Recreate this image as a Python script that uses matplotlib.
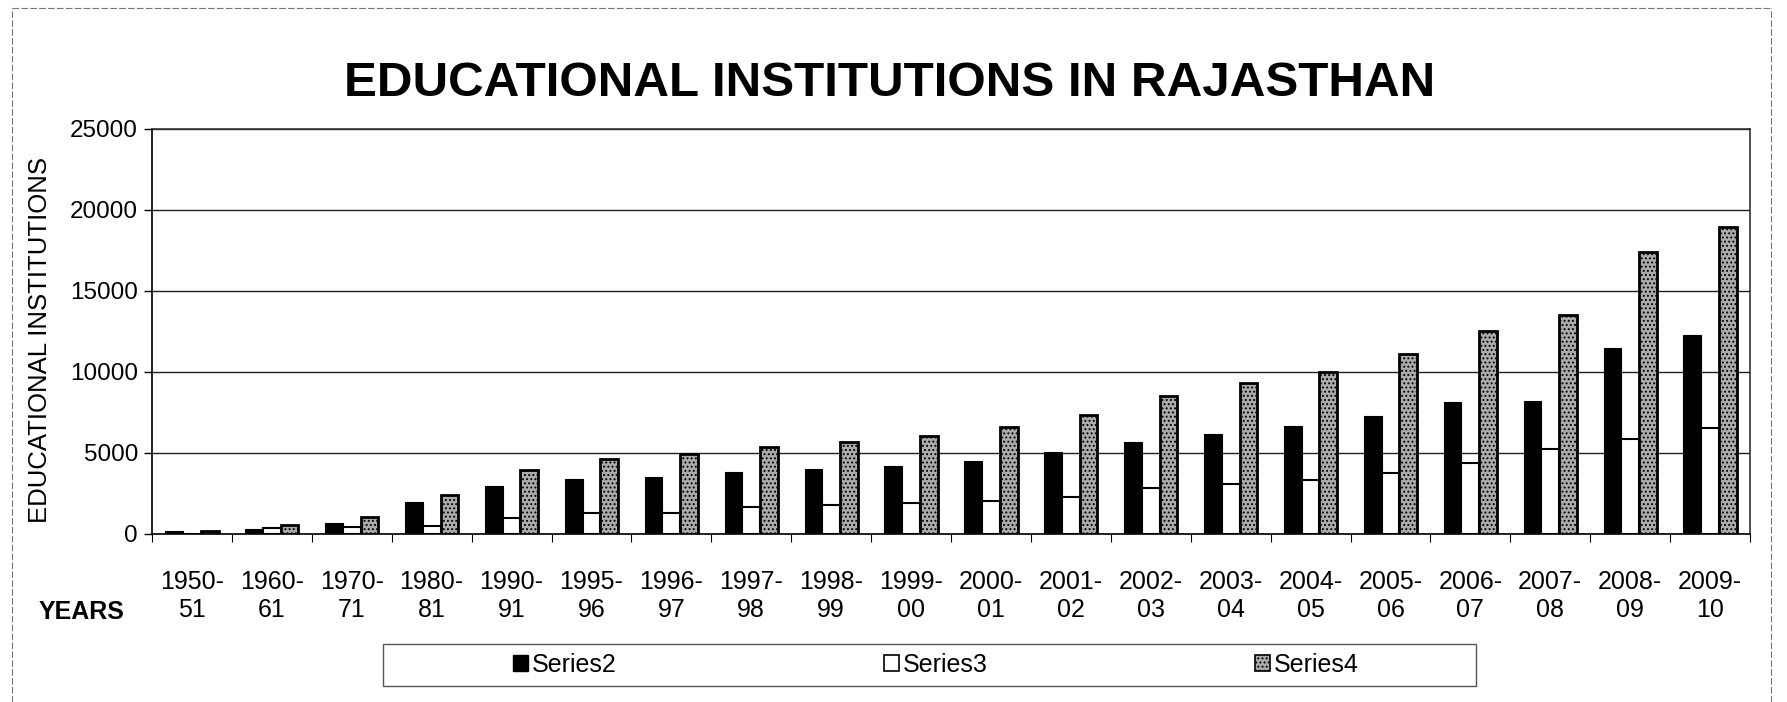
import matplotlib
matplotlib.use("Agg")
import matplotlib.pyplot as plt
import numpy as np
from matplotlib.patches import Rectangle
from matplotlib.lines import Line2D

years = ["1950-\n51", "1960-\n61", "1970-\n71", "1980-\n81", "1990-\n91", "1995-\n96",
         "1996-\n97", "1997-\n98", "1998-\n99", "1999-\n00", "2000-\n01", "2001-\n02",
         "2002-\n03", "2003-\n04", "2004-\n05", "2005-\n06", "2006-\n07", "2007-\n08",
         "2008-\n09", "2009-\n10"]
series2 = [200, 290, 660, 1975, 2960, 3375, 3540, 3830, 4010, 4220, 4525, 5080,
           5660, 6170, 6690, 7305, 8170, 8210, 11480, 12300]
series3 = [30, 370, 450, 490, 965, 1275, 1320, 1645, 1790, 1895, 2055, 2265,
           2840, 3065, 3330, 3745, 4360, 5245, 5860, 6520]
series4 = [200, 575, 1070, 2430, 3950, 4650, 4920, 5350, 5700, 6070, 6585, 7365,
           8520, 9300, 10020, 11090, 12550, 13520, 17410, 18970]
yticks = [0, 5000, 10000, 15000, 20000, 25000]

plt.rcParams['font.family'] = ['Liberation Sans', 'DejaVu Sans']
plt.rcParams['hatch.linewidth'] = 0.9

W, H = 1787, 702
fig = plt.figure(figsize=(W / 100, H / 100), dpi=100)
ax = fig.add_axes([152 / W, 1 - 534 / H, (1750 - 152) / W, (534 - 129) / H])

GRAY4 = '#ababab'
x = np.arange(len(years))
bw = 0.222
ax.bar(x - bw, series2, bw, color='black', edgecolor='black', linewidth=0.8, zorder=3)
ax.bar(x, series3, bw, color='white', edgecolor='black', linewidth=1.5, zorder=3)
ax.bar(x + bw, series4, bw, color=GRAY4, edgecolor='black', linewidth=2.0,
       hatch='....', zorder=3)

ax.set_xlim(-0.5, len(years) - 0.5)
ax.set_ylim(0, 25000)
ax.set_yticks(yticks)
ax.set_yticklabels([str(v) for v in yticks], fontsize=17.5)
ax.tick_params(axis='y', direction='out', length=6, width=1, pad=4)

ax.set_xticks(x)
ax.set_xticklabels(years, fontsize=18, linespacing=1.2)
ax.tick_params(axis='x', which='major', length=0, pad=26)
ax.set_xticks(np.arange(-0.5, len(years), 1.0), minor=True)
ax.tick_params(axis='x', which='minor', direction='out', length=6, width=0.8)

ax.yaxis.grid(True, color='#222222', linewidth=1.0)
ax.set_axisbelow(True)
for s in ['top', 'right', 'left', 'bottom']:
    ax.spines[s].set_color('black')
    ax.spines[s].set_linewidth(1.2)
ax.spines['top'].set_color('#333333')
ax.spines['right'].set_color('#333333')

fig.text(890 / W, 1 - 83 / H, "EDUCATIONAL INSTITUTIONS IN RAJASTHAN",
         ha='center', va='center', fontsize=35.6, fontweight='bold')
fig.text(40 / W, 1 - 340 / H, "EDUCATIONAL INSTITUTIONS", rotation=90,
         ha='center', va='center', fontsize=18.5)
fig.text(82 / W, 1 - 612 / H, "YEARS", ha='center', va='center',
         fontsize=18, fontweight='bold')

# legend box
fig.patches.append(Rectangle((383 / W, 1 - 686 / H), (1476 - 383) / W, 42 / H,
                             transform=fig.transFigure, fill=False,
                             edgecolor='#555555', linewidth=1.0))
handles = [Rectangle((0, 0), 1, 1, facecolor='black', edgecolor='black'),
           Rectangle((0, 0), 1, 1, facecolor='white', edgecolor='black', linewidth=1.2),
           Rectangle((0, 0), 1, 1, facecolor=GRAY4, edgecolor='black',
                     linewidth=1.2, hatch='....')]
fig.legend(handles, ["Series2", "Series3", "Series4"], loc='center',
           bbox_to_anchor=(936 / W, 1 - 665 / H), ncol=3, frameon=False,
           fontsize=18, handlelength=0.6, handleheight=0.6, handletextpad=0.15,
           columnspacing=10.7)

# scan frame
fig.add_artist(Line2D([12 / W, 12 / W], [0, 1 - 8 / H], transform=fig.transFigure,
                      color='#777777', linewidth=0.8, linestyle=(0, (6, 2))))
fig.add_artist(Line2D([12 / W, 1771 / W], [1 - 8 / H, 1 - 8 / H], transform=fig.transFigure,
                      color='#777777', linewidth=0.8, linestyle=(0, (6, 2))))
fig.add_artist(Line2D([1771 / W, 1771 / W], [0, 1 - 8 / H], transform=fig.transFigure,
                      color='#777777', linewidth=0.8, linestyle=(0, (6, 2))))

fig.savefig("out.png", dpi=100)
